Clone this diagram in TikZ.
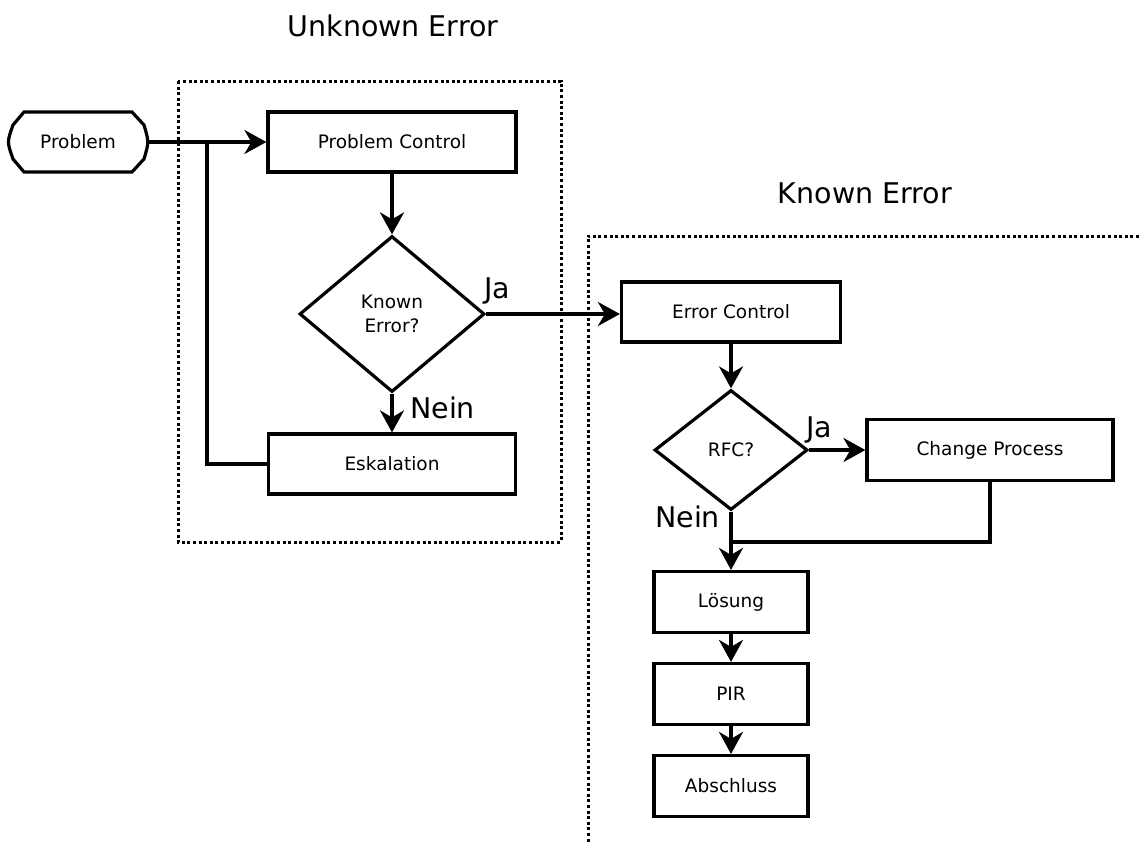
\documentclass[tikz,border=0pt]{standalone}
\usepackage{fontspec}
\setmainfont{DejaVu Sans}
\usetikzlibrary{shapes.geometric,arrows.meta}

\begin{document}
\begin{tikzpicture}[x=1pt,y=-1pt,
  every node/.style={inner sep=0pt},
  body/.style={font=\fontsize{18.5}{24}\selectfont},
  big/.style={font=\fontsize{28.5}{32}\selectfont},
  stepbox/.style={body,draw,line width=3.2pt,rectangle,minimum width=#1,minimum height=61pt},
  stepbox/.default=154pt,
  decision/.style={body,draw,line width=3.2pt,diamond,align=center},
  flow/.style={line width=3.2pt},
  arr/.style={flow,-{Stealth[length=22pt,width=24pt,inset=7pt]}},
  region/.style={line width=3pt,dash pattern=on 3pt off 2.6pt}
]
\useasboundingbox (0,0) rectangle (1139,843);

% dotted regions
\draw[region] (178,81) rectangle (561,542);
\draw[region] (1139,236) -- (588,236) -- (588,843);

% region titles
\node[big] (tu) at (393,26) {Unknown Error};
\node[big] (tk) at (865,193) {Known Error};

% start terminal
\node[body,minimum width=139pt,minimum height=61pt] (p) at (78,142) {Problem};
\draw[flow] ([shift={(-54,-30)}]p.center) -- ([shift={(54,-30)}]p.center)
  -- ([shift={(66,-17)}]p.center) .. controls ([shift={(71,0)}]p.center) .. ([shift={(66,17)}]p.center)
  -- ([shift={(54,30)}]p.center) -- ([shift={(-54,30)}]p.center)
  -- ([shift={(-65,17)}]p.center) .. controls ([shift={(-71,0)}]p.center) .. ([shift={(-65,-17)}]p.center)
  -- cycle;

% unknown error part
\node[stepbox=248pt,minimum height=60pt] (pc) at (392,142) {Problem Control};
\node[decision,minimum width=185pt,minimum height=156pt] (ke) at (392,314) {Known\\Error?};
\node[stepbox=247pt,minimum height=60pt] (esk) at (392,464) {Eskalation};

% known error part
\node[stepbox=219pt,minimum height=60pt] (ec) at (731,312) {Error Control};
\node[decision,minimum width=153pt,minimum height=120pt] (rfc) at (731,450) {RFC?};
\node[stepbox=246pt] (cp) at (990,450) {Change Process};
\node[stepbox] (lo) at (731,602) {Lösung};
\node[stepbox] (pir) at (731,694) {PIR};
\node[stepbox] (ab) at (731,786) {Abschluss};

% branch labels
\node[big,anchor=base west] (ja1) at (484,298) {Ja};
\node[big,anchor=base west] (nein1) at (410,418) {Nein};
\node[big,anchor=base west] (ja2) at (806,437) {Ja};
\node[big,anchor=base west] (nein2) at (655,527) {Nein};

% connectors
\coordinate (j1) at (207,142);
\coordinate (j2) at (207,464);
\coordinate (mj) at (731,542);
\draw[arr] (p.east) -- (pc.west);
\draw[flow] (j1) -- (j2) -- (esk.west);
\draw[arr] (pc.south) -- (ke.north);
\draw[arr] (ke.south) -- (esk.north);
\draw[arr] (ke.east) -- (ke.east -| ec.west);
\draw[arr] (ec.south) -- (rfc.north);
\draw[arr] (rfc.east) -- (cp.west);
\draw[arr] (rfc.south) -- (lo.north);
\draw[flow] (cp.south) |- (mj);
\draw[arr] (lo.south) -- (pir.north);
\draw[arr] (pir.south) -- (ab.north);
\end{tikzpicture}
\end{document}
